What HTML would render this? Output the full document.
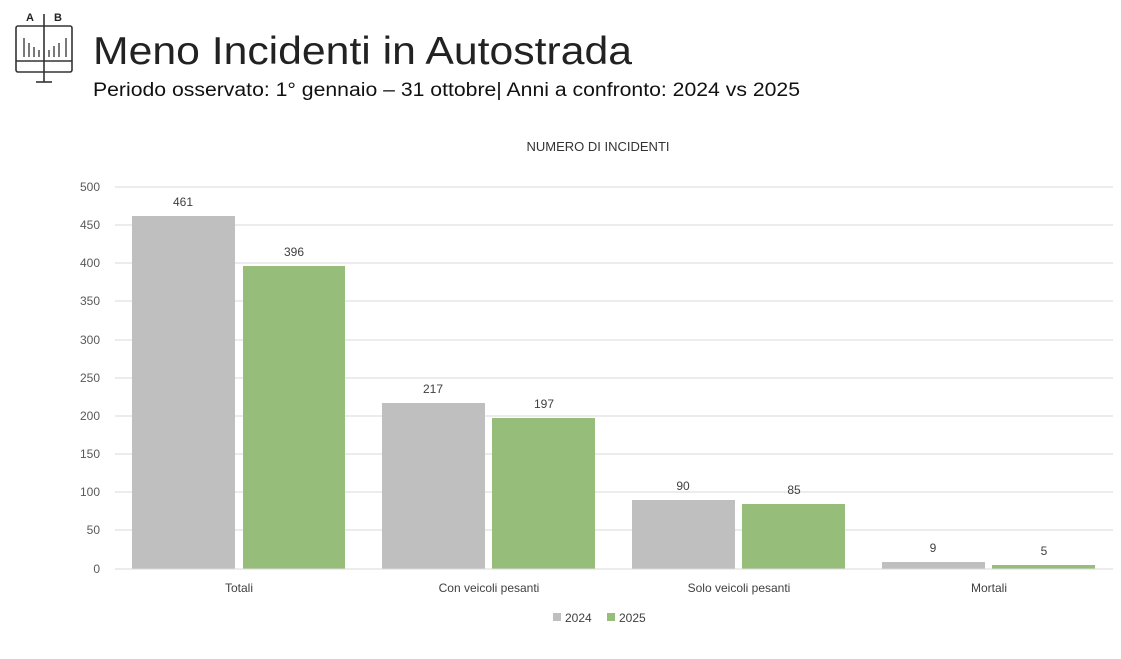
<!DOCTYPE html>
<html><head><meta charset="utf-8"><style>
body{margin:0;background:#fff;width:1121px;height:654px;overflow:hidden;font-family:"Liberation Sans",sans-serif}
</style></head><body>
<svg width="1121" height="654" xmlns="http://www.w3.org/2000/svg" font-family="Liberation Sans, sans-serif">
<g stroke="#333" fill="none" stroke-width="1.6">
<rect x="16" y="26" width="56" height="46" rx="2"/>
<line x1="16" y1="61" x2="72" y2="61"/>
<line x1="44" y1="14" x2="44" y2="82"/>
<line x1="36" y1="82" x2="52" y2="82"/>
<g stroke-width="1.3"><line x1="24" y1="38" x2="24" y2="57"/><line x1="29" y1="43" x2="29" y2="57"/><line x1="34" y1="47" x2="34" y2="57"/><line x1="39" y1="50" x2="39" y2="57"/><line x1="49" y1="50" x2="49" y2="57"/><line x1="54" y1="46" x2="54" y2="57"/><line x1="59" y1="43" x2="59" y2="57"/><line x1="66" y1="38" x2="66" y2="57"/></g>
</g>
<text x="30" y="21" font-size="11" font-weight="bold" text-anchor="middle" fill="#222">A</text>
<text x="58" y="21" font-size="11" font-weight="bold" text-anchor="middle" fill="#222">B</text>
<text x="93" y="64" font-size="39" fill="#222" textLength="539" lengthAdjust="spacingAndGlyphs">Meno Incidenti in Autostrada</text>
<text x="93" y="96" font-size="19" fill="#111" textLength="707" lengthAdjust="spacingAndGlyphs">Periodo osservato: 1° gennaio – 31 ottobre| Anni a confronto: 2024 vs 2025</text>
<text x="598" y="151" font-size="13" text-anchor="middle" fill="#333">NUMERO DI INCIDENTI</text>
<g stroke="#d9d9d9" stroke-width="1">
<line x1="115" y1="187" x2="1113" y2="187"/><line x1="115" y1="225" x2="1113" y2="225"/><line x1="115" y1="263" x2="1113" y2="263"/><line x1="115" y1="301" x2="1113" y2="301"/><line x1="115" y1="340" x2="1113" y2="340"/><line x1="115" y1="378" x2="1113" y2="378"/><line x1="115" y1="416" x2="1113" y2="416"/><line x1="115" y1="454" x2="1113" y2="454"/><line x1="115" y1="492" x2="1113" y2="492"/><line x1="115" y1="530" x2="1113" y2="530"/>
</g>
<g font-size="12" fill="#595959" text-anchor="end">
<text x="100" y="191">500</text><text x="100" y="229">450</text><text x="100" y="267">400</text><text x="100" y="305">350</text><text x="100" y="344">300</text><text x="100" y="382">250</text><text x="100" y="420">200</text><text x="100" y="458">150</text><text x="100" y="496">100</text><text x="100" y="534">50</text><text x="100" y="573">0</text>
</g>
<g fill="#bfbfbf">
<rect x="132" y="216" width="103" height="353"/><rect x="382" y="403" width="103" height="166"/><rect x="632" y="500" width="103" height="69"/><rect x="882" y="562" width="103" height="7"/>
</g>
<g fill="#97bd7a">
<rect x="243" y="266" width="102" height="303"/><rect x="492" y="418" width="103" height="151"/><rect x="742" y="504" width="103" height="65"/><rect x="992" y="565" width="103" height="4"/>
</g>
<line x1="115" y1="569" x2="1113" y2="569" stroke="#d9d9d9"/>
<g font-size="12" fill="#404040" text-anchor="middle">
<text x="183" y="206">461</text><text x="294" y="256">396</text>
<text x="433" y="393">217</text><text x="544" y="408">197</text>
<text x="683" y="490">90</text><text x="794" y="494">85</text>
<text x="933" y="552">9</text><text x="1044" y="555">5</text>
</g>
<g font-size="12" fill="#404040" text-anchor="middle">
<text x="239" y="592">Totali</text><text x="489" y="592">Con veicoli pesanti</text><text x="739" y="592">Solo veicoli pesanti</text><text x="989" y="592">Mortali</text>
</g>
<rect x="553" y="613" width="8" height="8" fill="#bfbfbf"/><text x="565" y="622" font-size="12" fill="#404040">2024</text>
<rect x="607" y="613" width="8" height="8" fill="#97bd7a"/><text x="619" y="622" font-size="12" fill="#404040">2025</text>
</svg>
</body></html>
